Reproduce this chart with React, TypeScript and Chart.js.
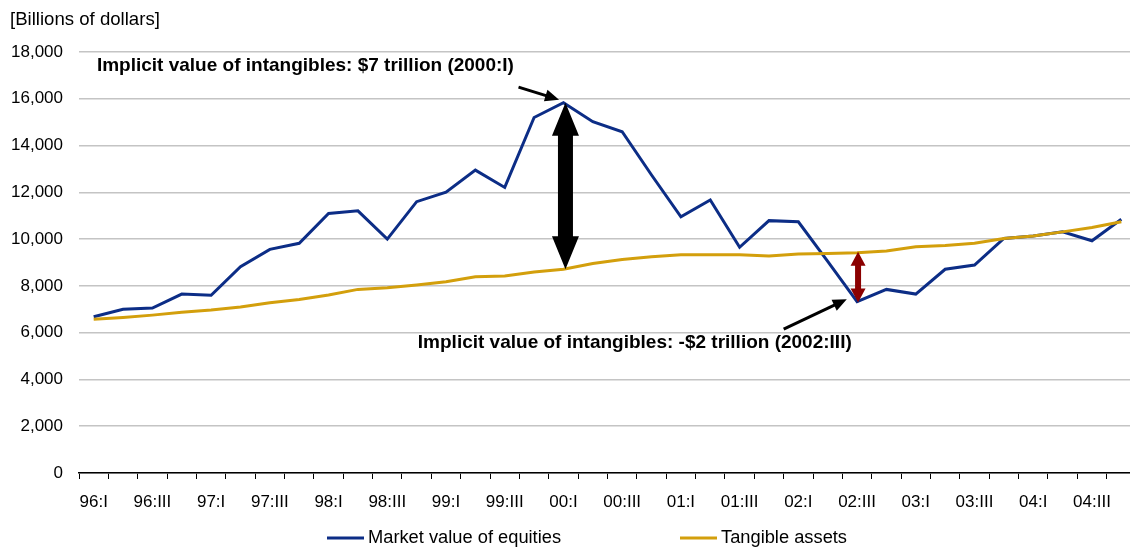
import React, { useEffect, useRef } from 'react';
import { Chart, registerables } from 'chart.js';

Chart.register(...registerables);

const quarters = [
  '96:I', '96:II', '96:III', '96:IV',
  '97:I', '97:II', '97:III', '97:IV',
  '98:I', '98:II', '98:III', '98:IV',
  '99:I', '99:II', '99:III', '99:IV',
  '00:I', '00:II', '00:III', '00:IV',
  '01:I', '01:II', '01:III', '01:IV',
  '02:I', '02:II', '02:III', '02:IV',
  '03:I', '03:II', '03:III', '03:IV',
  '04:I', '04:II', '04:III', '04:IV',
];

const marketValue = [
  6680, 7000, 7050, 7650, 7600, 8820, 9560, 9820,
  11100, 11210, 10000, 11600, 12010, 12950, 12210, 15200,
  15830, 15020, 14590, 12740, 10950, 11670, 9650, 10790,
  10740, 9050, 7330, 7850, 7650, 8710, 8890, 10030,
  10130, 10310, 9930, 10850,
];

const tangibleAssets = [
  6570, 6650, 6750, 6870, 6970, 7100, 7280, 7420,
  7610, 7850, 7920, 8040, 8180, 8390, 8420, 8590,
  8710, 8960, 9130, 9250, 9330, 9330, 9330, 9280,
  9360, 9380, 9420, 9490, 9670, 9730, 9820, 10030,
  10130, 10310, 10500, 10740,
];

const seriesNames = ['Market value of equities', 'Tangible assets'];
const unitLabel = '[Billions of dollars]';
const peakIndex = 16; // 00:I
const troughIndex = 26; // 02:III
const noteHigh = 'Implicit value of intangibles: $7 trillion (2000:I)';
const noteLow = 'Implicit value of intangibles: -$2 trillion (2002:III)';

const BLUE = '#0c2d86';
const GOLD = '#d39f0c';
const FONT = '"Liberation Sans", Arial, Helvetica, sans-serif';

function arrowHead(ctx: CanvasRenderingContext2D, x1: number, y1: number, x2: number, y2: number, len: number, w: number) {
  const a = Math.atan2(y2 - y1, x2 - x1);
  ctx.beginPath();
  ctx.moveTo(x2, y2);
  ctx.lineTo(x2 - len * Math.cos(a) + (w / 2) * Math.sin(a), y2 - len * Math.sin(a) - (w / 2) * Math.cos(a));
  ctx.lineTo(x2 - len * Math.cos(a) - (w / 2) * Math.sin(a), y2 - len * Math.sin(a) + (w / 2) * Math.cos(a));
  ctx.closePath();
  ctx.fill();
}

function singleArrow(ctx: CanvasRenderingContext2D, x1: number, y1: number, x2: number, y2: number, color: string) {
  ctx.save();
  ctx.strokeStyle = color;
  ctx.fillStyle = color;
  ctx.lineWidth = 3;
  const a = Math.atan2(y2 - y1, x2 - x1);
  const len = 14;
  ctx.beginPath();
  ctx.moveTo(x1, y1);
  ctx.lineTo(x2 - (len - 2) * Math.cos(a), y2 - (len - 2) * Math.sin(a));
  ctx.stroke();
  arrowHead(ctx, x1, y1, x2, y2, len, 12);
  ctx.restore();
}

function doubleArrow(ctx: CanvasRenderingContext2D, x: number, yTop: number, yBot: number, shaftW: number, headW: number, headL: number, color: string) {
  ctx.save();
  ctx.fillStyle = color;
  ctx.beginPath();
  ctx.moveTo(x, yTop);
  ctx.lineTo(x + headW / 2, yTop + headL);
  ctx.lineTo(x + shaftW / 2, yTop + headL);
  ctx.lineTo(x + shaftW / 2, yBot - headL);
  ctx.lineTo(x + headW / 2, yBot - headL);
  ctx.lineTo(x, yBot);
  ctx.lineTo(x - headW / 2, yBot - headL);
  ctx.lineTo(x - shaftW / 2, yBot - headL);
  ctx.lineTo(x - shaftW / 2, yTop + headL);
  ctx.lineTo(x - headW / 2, yTop + headL);
  ctx.closePath();
  ctx.fill();
  ctx.restore();
}

const annotationPlugin = {
  id: 'annotations',
  afterDatasetsDraw(chart: any) {
    const { ctx } = chart;
    const x = chart.scales.x;
    const y = chart.scales.y;
    ctx.save();
    const px = x.getPixelForValue(peakIndex) + 2;
    doubleArrow(ctx, px, y.getPixelForValue(marketValue[peakIndex]), y.getPixelForValue(tangibleAssets[peakIndex]), 15, 27, 33, '#000');
    const tx = x.getPixelForValue(troughIndex) + 1;
    doubleArrow(ctx, tx, y.getPixelForValue(tangibleAssets[troughIndex]) - 1, y.getPixelForValue(marketValue[troughIndex]) + 1, 6, 15, 14, '#8b0000');
    singleArrow(ctx, x.getPixelForValue(14.47), y.getPixelForValue(16500), x.getPixelForValue(15.85), y.getPixelForValue(15960), '#000');
    singleArrow(ctx, x.getPixelForValue(23.5), y.getPixelForValue(6150), x.getPixelForValue(25.65), y.getPixelForValue(7430), '#000');
    ctx.fillStyle = '#000';
    ctx.font = `bold 19px ${FONT}`;
    ctx.textAlign = 'left';
    ctx.textBaseline = 'middle';
    ctx.fillText(noteHigh, x.getPixelForValue(0.11), y.getPixelForValue(17400));
    ctx.fillText(noteLow, x.getPixelForValue(11.04), y.getPixelForValue(5580));
    ctx.restore();
  },
  afterDraw(chart: any) {
    const { ctx } = chart;
    ctx.save();
    ctx.fillStyle = '#000';
    ctx.font = `18.6px ${FONT}`;
    ctx.textAlign = 'left';
    ctx.textBaseline = 'middle';
    ctx.fillText(unitLabel, 10, 20);
    ctx.font = `18.3px ${FONT}`;
    const ly = 538;
    const items = [
      { x: 327, color: BLUE, text: seriesNames[0] },
      { x: 680, color: GOLD, text: seriesNames[1] },
    ];
    items.forEach((it) => {
      ctx.strokeStyle = it.color;
      ctx.lineWidth = 3;
      ctx.beginPath();
      ctx.moveTo(it.x, ly);
      ctx.lineTo(it.x + 37, ly);
      ctx.stroke();
      ctx.fillStyle = '#000';
      ctx.fillText(it.text, it.x + 41, ly);
    });
    ctx.restore();
  },
};

export default function App() {
  const ref = useRef<HTMLCanvasElement | null>(null);
  useEffect(() => {
    document.documentElement.style.overflow = 'hidden';
    document.body.style.overflow = 'hidden';
    const canvas = ref.current;
    if (!canvas) return;
    const chart = new Chart(canvas, {
      type: 'line',
      data: {
        labels: quarters,
        datasets: [
          {
            label: seriesNames[0],
            data: marketValue,
            borderColor: BLUE,
            backgroundColor: BLUE,
            borderWidth: 3,
            pointRadius: 0,
            tension: 0,
            order: 1,
          },
          {
            label: seriesNames[1],
            data: tangibleAssets,
            borderColor: GOLD,
            backgroundColor: GOLD,
            borderWidth: 3,
            pointRadius: 0,
            tension: 0,
            order: 0,
          },
        ],
      },
      options: {
        responsive: false,
        devicePixelRatio: 1,
        animation: false,
        layout: { padding: { top: 52, right: 4, left: 0, bottom: 0 } },
        plugins: {
          legend: { display: false },
          tooltip: { enabled: false },
          title: { display: false },
        },
        scales: {
          x: {
            type: 'category',
            offset: true,
            grid: {
              offset: true,
              drawOnChartArea: false,
              drawTicks: true,
              tickLength: 6,
              color: '#000',
              lineWidth: 1,
            },
            border: { display: true, color: '#000', width: 1.5 },
            ticks: {
              autoSkip: false,
              maxRotation: 0,
              minRotation: 0,
              padding: 13,
              color: '#000',
              font: { family: FONT, size: 17 },
              callback: (_v: any, i: number) => (i % 2 === 0 ? quarters[i] : ''),
            },
            afterFit: (s: any) => { s.height = 74; },
          },
          y: {
            min: 0,
            max: 18000,
            grid: { color: '#c4c4c4', lineWidth: 1.5, drawTicks: false },
            border: { display: false },
            ticks: {
              stepSize: 2000,
              padding: 16,
              color: '#000',
              font: { family: FONT, size: 17 },
              callback: (v: any) => Number(v).toLocaleString('en-US'),
            },
            afterFit: (s: any) => { s.width = 79; },
          },
        },
      },
      plugins: [annotationPlugin],
    });
    return () => chart.destroy();
  }, []);
  return (
    <div style={{ position: 'absolute', left: 0, top: 0, width: 1140, height: 547 }}>
      <canvas ref={ref} width={1140} height={547} style={{ display: 'block' }} />
    </div>
  );
}
